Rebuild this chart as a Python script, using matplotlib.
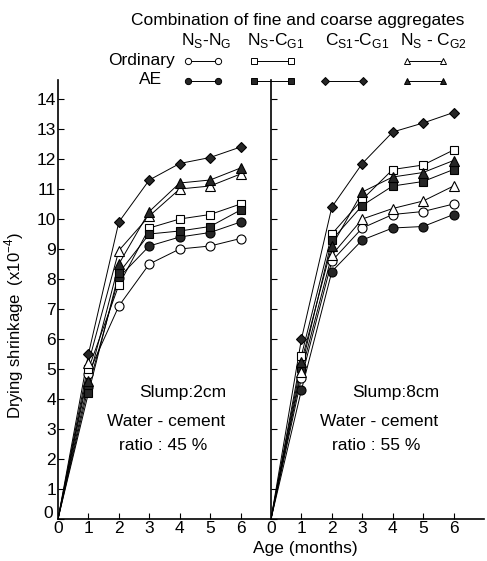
import matplotlib
matplotlib.use('Agg')
import matplotlib.pyplot as plt
from matplotlib.lines import Line2D
from matplotlib.transforms import ScaledTranslation

plt.rcParams['font.family'] = ['Liberation Sans', 'DejaVu Sans']
plt.rcParams['mathtext.fontset'] = 'custom'
plt.rcParams['mathtext.rm'] = 'Liberation Sans'

# age in months
months = [0, 1, 2, 3, 4, 5, 6]

# slump 2 cm, w/c 45 %
left_nn_ord = [0, 4.85, 7.1, 8.5, 9.0, 9.1, 9.35]
left_nn_ae = [0, 4.4, 8.05, 9.1, 9.4, 9.55, 9.9]
left_ncg1_ord = [0, 5.0, 7.8, 9.7, 10.0, 10.15, 10.5]
left_ncg1_ae = [0, 4.2, 8.2, 9.5, 9.6, 9.75, 10.3]
left_ccg1_ae = [0, 5.5, 9.9, 11.3, 11.85, 12.05, 12.4]
left_ncg2_ord = [0, 5.2, 8.95, 10.1, 11.0, 11.1, 11.5]
left_ncg2_ae = [0, 4.6, 8.5, 10.25, 11.2, 11.3, 11.7]

# slump 8 cm, w/c 55 %
right_nn_ord = [0, 4.7, 8.6, 9.7, 10.15, 10.25, 10.5]
right_nn_ae = [0, 4.3, 8.25, 9.3, 9.7, 9.75, 10.15]
right_ncg1_ord = [0, 5.45, 9.5, 10.65, 11.65, 11.8, 12.3]
right_ncg1_ae = [0, 5.05, 9.3, 10.45, 11.1, 11.25, 11.65]
right_ccg1_ae = [0, 6.0, 10.4, 11.85, 12.9, 13.2, 13.55]
right_ncg2_ord = [0, 4.9, 8.8, 10.0, 10.35, 10.6, 11.1]
right_ncg2_ae = [0, 5.25, 9.1, 10.9, 11.4, 11.55, 11.95]

DARK = '#262626'
# (marker, filled, size)
styles = [('o', False, 6.5), ('o', True, 6.5), ('s', False, 6), ('s', True, 6),
          ('D', True, 5.5), ('^', False, 6.5), ('^', True, 6.5)]
left_series = [left_nn_ord, left_nn_ae, left_ncg1_ord, left_ncg1_ae,
               left_ccg1_ae, left_ncg2_ord, left_ncg2_ae]
right_series = [right_nn_ord, right_nn_ae, right_ncg1_ord, right_ncg1_ae,
                right_ccg1_ae, right_ncg2_ord, right_ncg2_ae]

W, H = 487, 561
fig = plt.figure(figsize=(W / 100, H / 100), dpi=100)

x0, x_mid, x1 = 58, 271, 484
y_bot, y_top = 519, 80
ax1 = fig.add_axes([x0 / W, 1 - y_bot / H, (x_mid - x0) / W, (y_bot - y_top) / H])
ax2 = fig.add_axes([x_mid / W, 1 - y_bot / H, (x1 - x_mid) / W, (y_bot - y_top) / H])

for ax, series in [(ax1, left_series), (ax2, right_series)]:
    for vals, (m, filled, ms) in zip(series, styles):
        ax.plot(months, vals, color='black', lw=0.7, zorder=2)
        ax.plot(months[1:], vals[1:], ls='none', marker=m, ms=ms,
                mfc=DARK if filled else 'white', mec='black', mew=0.8, zorder=3)
    ax.set_xlim(0, 7)
    ax.set_ylim(0, (y_bot - y_top) / 30.0)
    ax.set_xticks(range(7))
    ax.set_yticks(range(15))
    ax.spines['top'].set_visible(False)
    ax.spines['right'].set_visible(False)
    ax.spines['left'].set_linewidth(1.2)
    ax.spines['bottom'].set_linewidth(1.2)
    ax.tick_params(direction='in', length=4, width=0.8, labelsize=12.5, pad=1.5)
    ax.patch.set_alpha(0)

ax2.tick_params(axis='y', labelleft=False)

# lift the y "0" so it clears the x "0"
fig.canvas.draw()
lab0 = ax1.get_yticklabels()[0]
lab0.set_transform(lab0.get_transform() + ScaledTranslation(-2 / 72, 5 / 72, fig.dpi_scale_trans))

ax1.set_ylabel('Drying shrinkage  (x10$^{-4}$)', fontsize=12)
ax1.yaxis.set_label_coords(-0.15, 0.44)
fig.text(305 / W, 1 - 549 / H, 'Age (months)', ha='center', va='center', fontsize=12.5)

# panel notes
for ax, slump, ratio in [(ax1, 'Slump:2cm', 'ratio : 45 %'), (ax2, 'Slump:8cm', 'ratio : 55 %')]:
    ax.text(4.1, 4.2, slump, ha='center', va='center', fontsize=12.5)
    ax.text(1.6, 3.25, 'Water - cement', ha='left', va='center', fontsize=12.5)
    ax.text(2.0, 2.45, ratio, ha='left', va='center', fontsize=12.5)

# legend block
fig.text(298 / W, 1 - 20 / H, 'Combination of fine and coarse aggregates',
         ha='center', va='center', fontsize=12.5)
heads = [r'N$_{\mathrm{S}}$-N$_{\mathrm{G}}$', r'N$_{\mathrm{S}}$-C$_{\mathrm{G1}}$',
         r'C$_{\mathrm{S1}}$-C$_{\mathrm{G1}}$', r'N$_{\mathrm{S}}$ - C$_{\mathrm{G2}}$']
head_x = [206, 276, 357, 434]
for hx, t in zip(head_x, heads):
    fig.text(hx / W, 1 - 40 / H, t, ha='center', va='center', fontsize=12.5)
fig.text(175 / W, 1 - 60 / H, 'Ordinary', ha='right', va='center', fontsize=12.5)
fig.text(151 / W, 1 - 80 / H, 'AE', ha='center', va='center', fontsize=12.5)

seg = [(188, 218), (254, 291), (325, 363), (407, 443)]
row_ord = [('o', 0), ('s', 2), None, ('^', 5)]
row_ae = [('o', 1), ('s', 3), ('D', 4), ('^', 6)]
for (sx0, sx1), o, a in zip(seg, row_ord, row_ae):
    for item, py in [(o, 61), (a, 81)]:
        if item is None:
            continue
        m, idx = item
        filled = styles[idx][1]
        fig.add_artist(Line2D([sx0 / W, sx1 / W], [1 - py / H, 1 - py / H],
                              transform=fig.transFigure, color='black', lw=0.7,
                              marker=m, ms=4.5, mfc=DARK if filled else 'white',
                              mec='black', mew=0.7))

plt.savefig('out.png', dpi=100)
